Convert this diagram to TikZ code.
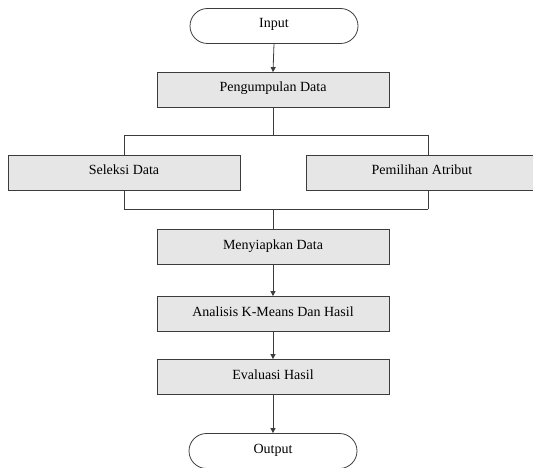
\documentclass[tikz,border=0pt]{standalone}
\usepackage{fontspec}
\setmainfont{Liberation Serif}
\usetikzlibrary{positioning,arrows.meta,calc}

\definecolor{boxgray}{HTML}{E6E6E6}
\definecolor{linegray}{HTML}{3C3C3C}

\begin{document}
\begin{tikzpicture}[x=1pt, y=-1pt,
        every node/.style={font=\fontsize{14}{16}\selectfont, text height=9pt, text depth=5pt},
        box/.style={draw=linegray, fill=boxgray, line width=0.8pt, minimum width=232pt, minimum height=35pt, inner sep=0pt},
        terminal/.style={draw=linegray, line width=0.8pt, rounded corners=17.5pt, minimum width=168pt, minimum height=35pt, inner sep=0pt},
        link/.style={draw=linegray, line width=0.8pt},
        flow/.style={link, -{Triangle[length=5pt, width=5pt]}}]
        \useasboundingbox (0,0) rectangle (533,468);

        \node[terminal] (input) at (274, 26) {Input};
        \node[box] (kumpul) at (273, 90) {Pengumpulan Data};
        \node[box] (seleksi) at (124, 173) {Seleksi Data};
        \node[box] (atribut) at (422, 173) {Pemilihan Atribut};
        \node[box] (siap) at (273, 247) {Menyiapkan Data};
        \node[box] (kmeans) at (273, 314) {Analisis K-Means Dan Hasil};
        \node[box] (evaluasi) at (273, 377) {Evaluasi Hasil};
        \node[terminal] (output) at (273, 451) {Output};

        \coordinate (pisahL) at (124, 135);
        \coordinate (pisahR) at (428, 135);
        \coordinate (gabungL) at (124, 209);
        \coordinate (gabungR) at (428, 209);

        \draw[flow] (input.south) -- (kumpul.north);
        \draw[link] (kumpul.south) -- (kumpul.south |- pisahL);
        \draw[link] (pisahL) -- (pisahR);
        \draw[link] (pisahL) -- (pisahL |- seleksi.north);
        \draw[link] (pisahR) -- (pisahR |- atribut.north);
        \draw[link] (seleksi.south -| gabungL) -- (gabungL);
        \draw[link] (atribut.south -| gabungR) -- (gabungR);
        \draw[link] (gabungL) -- (gabungR);
        \draw[link] (siap.north |- gabungL) -- (siap.north);
        \draw[flow] (siap.south) -- (kmeans.north);
        \draw[flow] (kmeans.south) -- (evaluasi.north);
        \draw[flow] (evaluasi.south) -- (output.north);
\end{tikzpicture}
\end{document}
